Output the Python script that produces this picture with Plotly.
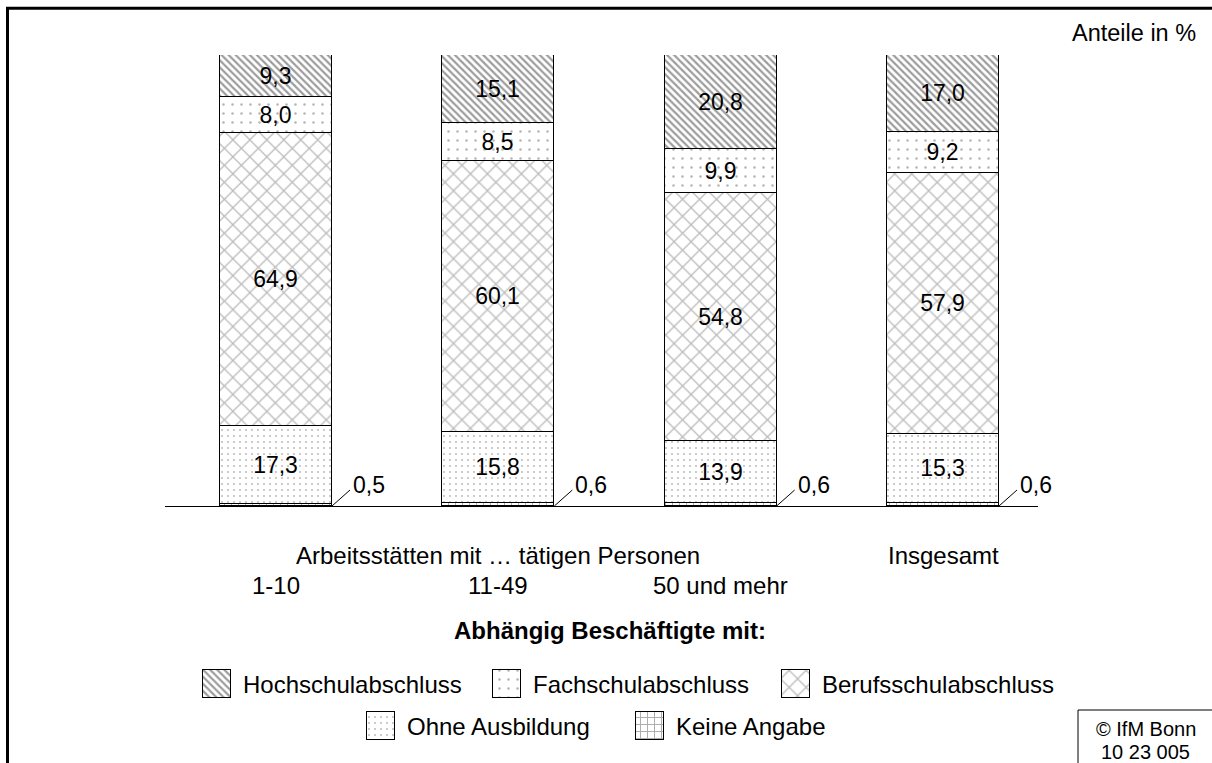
import plotly.graph_objects as go

# ---------------- data ----------------
categories = ["1-10", "11-49", "50 und mehr", "Insgesamt"]
group_label = "Arbeitsstätten mit … tätigen Personen"
series_names = ["Keine Angabe", "Ohne Ausbildung", "Berufsschulabschluss",
                "Fachschulabschluss", "Hochschulabschluss"]
keine_angabe = [0.5, 0.6, 0.6, 0.6]
ohne_ausbildung = [17.3, 15.8, 13.9, 15.3]
berufsschul = [64.9, 60.1, 54.8, 57.9]
fachschul = [8.0, 8.5, 9.9, 9.2]
hochschul = [9.3, 15.1, 20.8, 17.0]
unit_label = "Anteile in %"
legend_title = "Abhängig Beschäftigte mit:"
copyright_lines = ["© IfM Bonn", "10 23 005"]

# ---------------- layout geometry (pixels) ----------------
W, H = 1212, 763
PLOT_L, PLOT_R, PLOT_T, PLOT_B = 165, 1038, 55, 506
FONT = "Liberation Sans, Arial, sans-serif"
# legend key slots (centre x, centre y) for each series, in series order
legend_slots = [(649.5, 726), (380.5, 726), (796, 684), (507, 684), (216.5, 684)]
SW = 28  # legend key size


def px(x):
    return x / W


def py(y):
    return 1 - y / H


xs = list(range(len(categories)))
unit = (943 - 276) / 3.0
xrange_ = [(PLOT_L - 276) / unit, (PLOT_R - 276) / unit]
bar_w = 112 / unit


def fmt(v):
    return f"{v:.1f}".replace(".", ",")


series = [keine_angabe, ohne_ausbildung, berufsschul, fachschul, hochschul]
patterns = [
    dict(shape="+", size=7, solidity=0.25, fgcolor="#555555", bgcolor="white"),
    dict(shape=".", size=6, solidity=0.07, fgcolor="#666666", bgcolor="white"),
    dict(shape="x", size=12, solidity=0.2, fgcolor="#777777", bgcolor="white"),
    dict(shape=".", size=9, solidity=0.06, fgcolor="#666666", bgcolor="white"),
    dict(shape="\\", size=5, solidity=0.45, fgcolor="#3a3a3a", bgcolor="white"),
]

fig = go.Figure()
for name, vals, pat in zip(series_names, series, patterns):
    show_text = name != "Keine Angabe"
    fig.add_trace(go.Bar(
        x=xs, y=vals, name=name, width=bar_w,
        marker=dict(color="white", pattern=pat, line=dict(color="black", width=1)),
        text=[fmt(v) for v in vals] if show_text else None,
        textposition="inside" if show_text else "none",
        insidetextanchor="middle", textangle=0,
        textfont=dict(family=FONT, size=23, color="black"),
        showlegend=False, hoverinfo="skip",
    ))

shapes = []
annotations = []
LBL = 24

# legend keys drawn on a full-page overlay axis (pixel units)
for name, pat, (cx, cy) in zip(series_names, patterns, legend_slots):
    fig.add_trace(go.Bar(
        x=[cx], y=[SW], base=[cy - SW / 2], width=SW, xaxis="x2", yaxis="y2",
        marker=dict(color="white", pattern=dict(pat), line=dict(color="black", width=1)),
        showlegend=False, hoverinfo="skip",
    ))
    annotations.append(dict(x=cx + SW / 2 + 10, y=cy, xref="x2", yref="y2",
                            xanchor="left", yanchor="middle", text=name, showarrow=False,
                            font=dict(family=FONT, size=LBL, color="black")))

# leader lines and small labels for "Keine Angabe"
for x, v in zip(xs, keine_angabe):
    shapes.append(dict(type="line", xref="x", yref="y",
                       xsizemode="pixel", xanchor=x + bar_w / 2, x0=0, x1=18,
                       ysizemode="pixel", yanchor=0, y0=0, y1=16,
                       line=dict(color="black", width=1)))
    annotations.append(dict(x=x + bar_w / 2, y=0, xref="x", yref="y",
                            xshift=19, yshift=21, xanchor="left", yanchor="middle",
                            text=fmt(v), showarrow=False,
                            font=dict(family=FONT, size=23, color="black")))

# category labels
annotations.append(dict(x=xs[1], y=0, xref="x", yref="y", yshift=-(555 - PLOT_B),
                        text=group_label, showarrow=False, yanchor="middle",
                        font=dict(family=FONT, size=LBL, color="black")))
annotations.append(dict(x=xs[3], y=0, xref="x", yref="y", yshift=-(555 - PLOT_B),
                        text=categories[3], showarrow=False, yanchor="middle",
                        font=dict(family=FONT, size=LBL, color="black")))
for x, c in zip(xs[:3], categories[:3]):
    annotations.append(dict(x=x, y=0, xref="x", yref="y", yshift=-(585 - PLOT_B),
                            text=c, showarrow=False, yanchor="middle",
                            font=dict(family=FONT, size=LBL, color="black")))

# unit label
annotations.append(dict(x=px(1198), y=py(33), xref="paper", yref="paper",
                        xanchor="right", yanchor="middle", text=unit_label,
                        showarrow=False, font=dict(family=FONT, size=23.5, color="black")))
# legend title
annotations.append(dict(x=px(610), y=py(630), xref="paper", yref="paper",
                        xanchor="center", yanchor="middle", text=f"<b>{legend_title}</b>",
                        showarrow=False, font=dict(family=FONT, size=LBL, color="black")))
# copyright box
shapes.append(dict(type="rect", xref="paper", yref="paper",
                   x0=px(1078), x1=px(1230), y0=py(710), y1=py(780),
                   line=dict(color="black", width=1), fillcolor="white"))
for i, t in enumerate(copyright_lines):
    annotations.append(dict(x=px(1145.5), y=py(729 + 23 * i), xref="paper", yref="paper",
                            xanchor="center", yanchor="middle", text=t, showarrow=False,
                            font=dict(family=FONT, size=20, color="black")))

# frame lines (top and left)
shapes.append(dict(type="line", xref="paper", yref="paper",
                   x0=px(6), x1=px(1230), y0=py(8.3), y1=py(8.3),
                   line=dict(color="black", width=3)))
shapes.append(dict(type="line", xref="paper", yref="paper",
                   x0=px(7.5), x1=px(7.5), y0=py(7), y1=py(780),
                   line=dict(color="black", width=3)))

fig.update_layout(
    width=W, height=H,
    margin=dict(l=0, r=0, t=0, b=0, pad=0),
    paper_bgcolor="white", plot_bgcolor="rgba(0,0,0,0)",
    barmode="stack", bargap=0,
    font=dict(family=FONT, size=23, color="black"),
    xaxis=dict(domain=[PLOT_L / W, PLOT_R / W], range=xrange_, showgrid=False,
               zeroline=False, showticklabels=False, ticks="", showline=True,
               linecolor="black", linewidth=1, fixedrange=True),
    yaxis=dict(domain=[1 - PLOT_B / H, 1 - PLOT_T / H], range=[0, 100], visible=False,
               showgrid=False, zeroline=False, fixedrange=True),
    xaxis2=dict(domain=[0, 1], range=[0, W], visible=False, anchor="y2",
                showgrid=False, zeroline=False, fixedrange=True),
    yaxis2=dict(domain=[0, 1], range=[H, 0], visible=False, anchor="x2",
                showgrid=False, zeroline=False, fixedrange=True),
    shapes=shapes, annotations=annotations,
    showlegend=False,
)

fig.write_html("out.html", config={"displayModeBar": False},
               post_script="document.body.style.margin='0px';document.body.style.overflow='hidden';")
